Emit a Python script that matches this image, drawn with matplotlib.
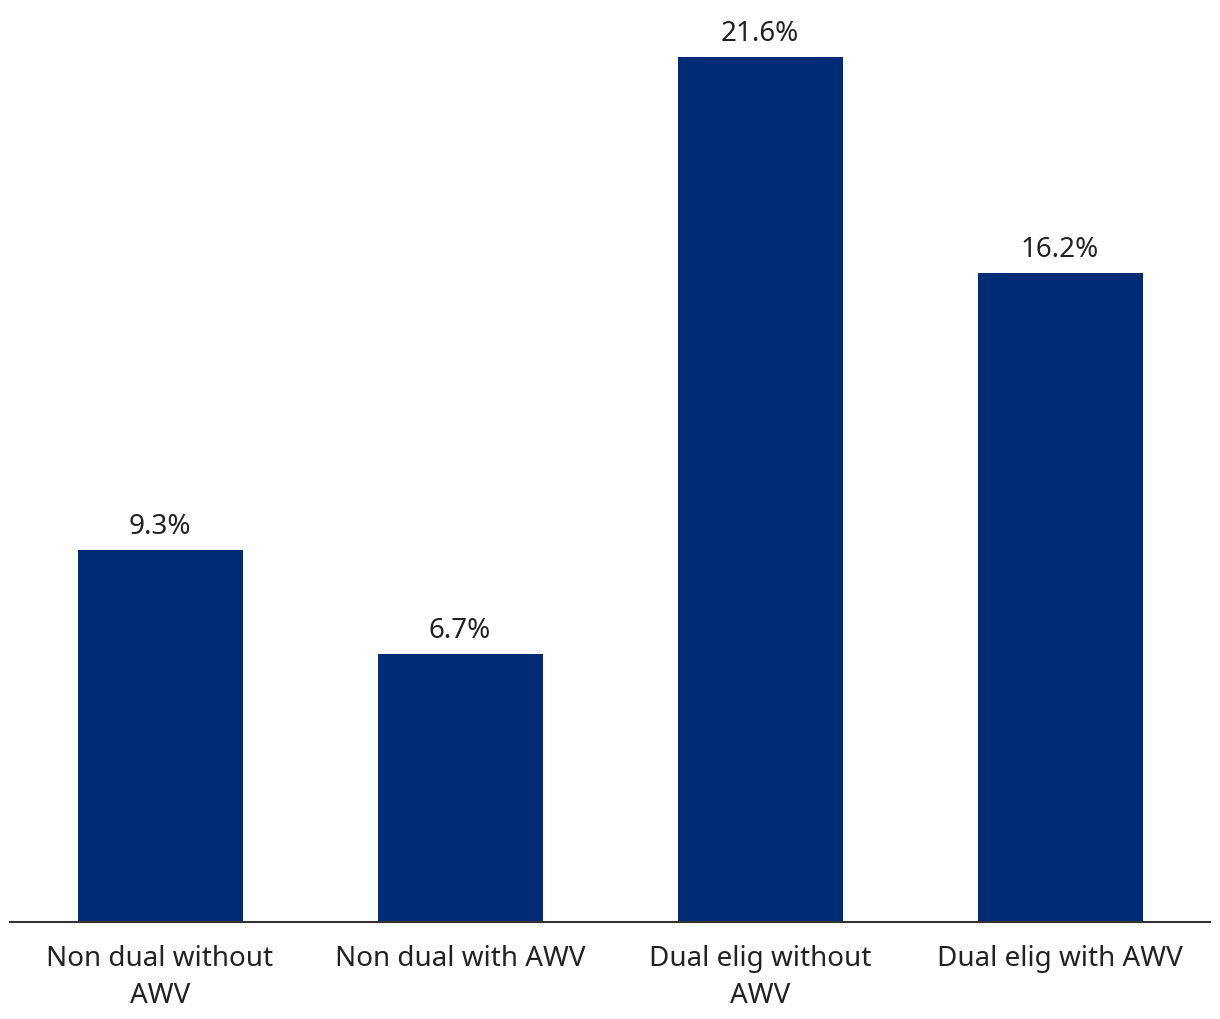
import matplotlib
matplotlib.use("Agg")
import matplotlib.pyplot as plt

categories = ["Non dual without\nAWV", "Non dual with AWV", "Dual elig without\nAWV", "Dual elig with AWV"]
values = [9.3, 6.7, 21.6, 16.2]
labels = ["9.3%", "6.7%", "21.6%", "16.2%"]

plt.rcParams['font.family'] = ['Noto Sans', 'DejaVu Sans']

fig = plt.figure(figsize=(12.2, 10.2), dpi=100)
ax = fig.add_axes([10/1220, (1020-923)/1020, 1200/1220, (923-10)/1020])

x = range(len(categories))
bars = ax.bar(x, values, width=0.55, color="#002B75")
ax.set_xlim(-0.5, 3.5)
ax.set_ylim(0, 913/40.05)

for xi, v, lab in zip(x, values, labels):
    ax.text(xi, v + 0.25, lab, ha="center", va="bottom", fontsize=20, color="#222222")

ax.set_xticks(list(x))
ax.set_xticklabels(categories, fontsize=20, color="#222222", linespacing=1.43)
ax.tick_params(axis="x", length=0, pad=16)
ax.set_yticks([])
for s in ["top", "right", "left"]:
    ax.spines[s].set_visible(False)
ax.spines["bottom"].set_color("#333333")
ax.spines["bottom"].set_linewidth(1.5)

fig.savefig("out.png", dpi=100)
